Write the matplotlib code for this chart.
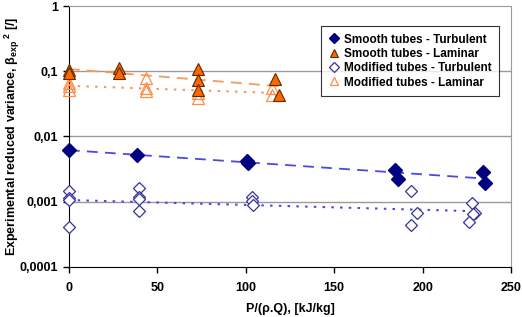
import numpy as np
import matplotlib
matplotlib.use("Agg")
import matplotlib.pyplot as plt
from matplotlib.ticker import FixedLocator, FixedFormatter, NullLocator

plt.rcParams['font.family'] = ['Liberation Sans', 'DejaVu Sans']
plt.rcParams['font.weight'] = 'bold'
plt.rcParams['mathtext.fontset'] = 'custom'
plt.rcParams['mathtext.rm'] = 'Liberation Sans:bold'
plt.rcParams['mathtext.it'] = 'Liberation Sans:bold'
plt.rcParams['mathtext.bf'] = 'Liberation Sans:bold'

# Smooth tubes - Turbulent
st_x = [0, 38.3, 100.5, 101.5, 184.4, 186.0, 234.3, 235.3]
st_y = [0.0063, 0.0052, 0.0042, 0.0039, 0.0031, 0.0022, 0.0029, 0.00196]

# Smooth tubes - Laminar
sl_x = [0, 0, 28.5, 28.5, 73, 73, 73, 116.5, 119]
sl_y = [0.105, 0.094, 0.114, 0.094, 0.109, 0.074, 0.052, 0.077, 0.043]

# Modified tubes - Turbulent
mt_x = [0, 0, 0, 0, 39.8, 39.8, 39.8, 39.8, 103.3, 103.3, 104, 193.2, 196.9, 193.4,
        227.8, 229.6, 228.3, 226.2]
mt_y = [0.00146, 0.00113, 0.00105, 0.00041, 0.00165, 0.00116, 0.00109, 0.00071,
        0.00116, 0.00103, 0.00088, 0.00146, 0.00066, 0.00044,
        0.00097, 0.00068, 0.00064, 0.00049]

# Modified tubes - Laminar
ml_x = [0, 0, 0, 43.6, 43.6, 43.6, 73, 73, 114.7, 114.7]
ml_y = [0.066, 0.059, 0.052, 0.080, 0.055, 0.049, 0.047, 0.039, 0.055, 0.044]

y_ticks = [0.0001, 0.001, 0.01, 0.1, 1]
y_labels = ["0,0001", "0,001", "0,01", "0,1", "1"]


def exp_trend(x, y):
    # exponential trendline like excel: straight fit on log(y)
    b, a = np.polyfit(x, np.log(y), 1)
    xs = np.linspace(min(x), max(x), 50)
    return xs, np.exp(a + b * xs)


fig = plt.figure(figsize=(5.22, 3.17), dpi=100)
ax = fig.add_axes([0.132, 0.158, 0.847, 0.823])

# trend lines
xs, ys = exp_trend(st_x, st_y)
ax.plot(xs, ys, color="#4a4ae0", lw=1.3, dashes=(6, 4), zorder=2)
xs, ys = exp_trend(mt_x, mt_y)
ax.plot(xs, ys, color="#4a4ae0", lw=1.5, dashes=(1.2, 3), zorder=2)
xs, ys = exp_trend(sl_x, sl_y)
ax.plot(xs, ys, color="#f79a5c", lw=1.3, dashes=(6, 4), zorder=2)
xs, ys = exp_trend(ml_x, ml_y)
ax.plot(xs, ys, color="#f79a5c", lw=1.5, dashes=(1.2, 3), zorder=2)

# points (not clipped, excel draws them over the axis)
ax.plot(ml_x, ml_y, ls="none", marker="^", ms=8, mfc="none", mec="#ff8c4a", mew=0.9,
        label="Modified tubes - Laminar", zorder=3, clip_on=False)
ax.plot(mt_x, mt_y, ls="none", marker="D", ms=6.5, mfc="white", mec="#33339a", mew=0.9,
        label="Modified tubes - Turbulent", zorder=3, clip_on=False)
ax.plot(st_x, st_y, ls="none", marker="D", ms=7, mfc="#000080", mec="#000080",
        label="Smooth tubes - Turbulent", zorder=4, clip_on=False)
ax.plot(sl_x, sl_y, ls="none", marker="^", ms=8.5, mfc="#ff6600", mec="#5a2a00", mew=0.8,
        label="Smooth tubes - Laminar", zorder=4, clip_on=False)

ax.set_yscale("log")
ax.set_xlim(0, 250)
ax.set_ylim(0.0001, 1)
ax.set_xticks([0, 50, 100, 150, 200, 250])
ax.yaxis.set_major_locator(FixedLocator(y_ticks))
ax.yaxis.set_major_formatter(FixedFormatter(y_labels))
ax.yaxis.set_minor_locator(NullLocator())
ax.tick_params(labelsize=9, length=4, width=1, direction="out", color="black")
ax.tick_params(axis="x", pad=7)
for lab in ax.get_xticklabels() + ax.get_yticklabels():
    lab.set_fontweight("bold")

for yv in [0.001, 0.01, 0.1]:
    ax.axhline(yv, color="#9a9a9a", lw=1, zorder=1)

ax.spines["left"].set_color("black")
ax.spines["bottom"].set_color("black")
ax.spines["top"].set_color("#9a9a9a")
ax.spines["right"].set_color("#9a9a9a")

ax.set_xlabel("P/(ρ.Q), [kJ/kg]", fontsize=9, fontweight="bold", labelpad=6)
ax.set_ylabel(r"Experimental reduced variance, $\beta_{exp}$$^{\ 2}$ [/]",
              fontsize=9, fontweight="bold")
ax.yaxis.set_label_coords(-0.105, 0.5)

handles, labels = ax.get_legend_handles_labels()
order = [2, 3, 1, 0]
leg = ax.legend([handles[i] for i in order], [labels[i] for i in order],
                loc="upper left", bbox_to_anchor=(0.570, 0.924), borderaxespad=0,
                fontsize=8.5, frameon=True, fancybox=False, edgecolor="black",
                handlelength=1.0, handletextpad=0.3, borderpad=0.65,
                labelspacing=0.2, markerscale=0.75)
leg.get_frame().set_linewidth(0.8)
for t in leg.get_texts():
    t.set_fontweight("bold")

fig.savefig("out.png", dpi=100)
